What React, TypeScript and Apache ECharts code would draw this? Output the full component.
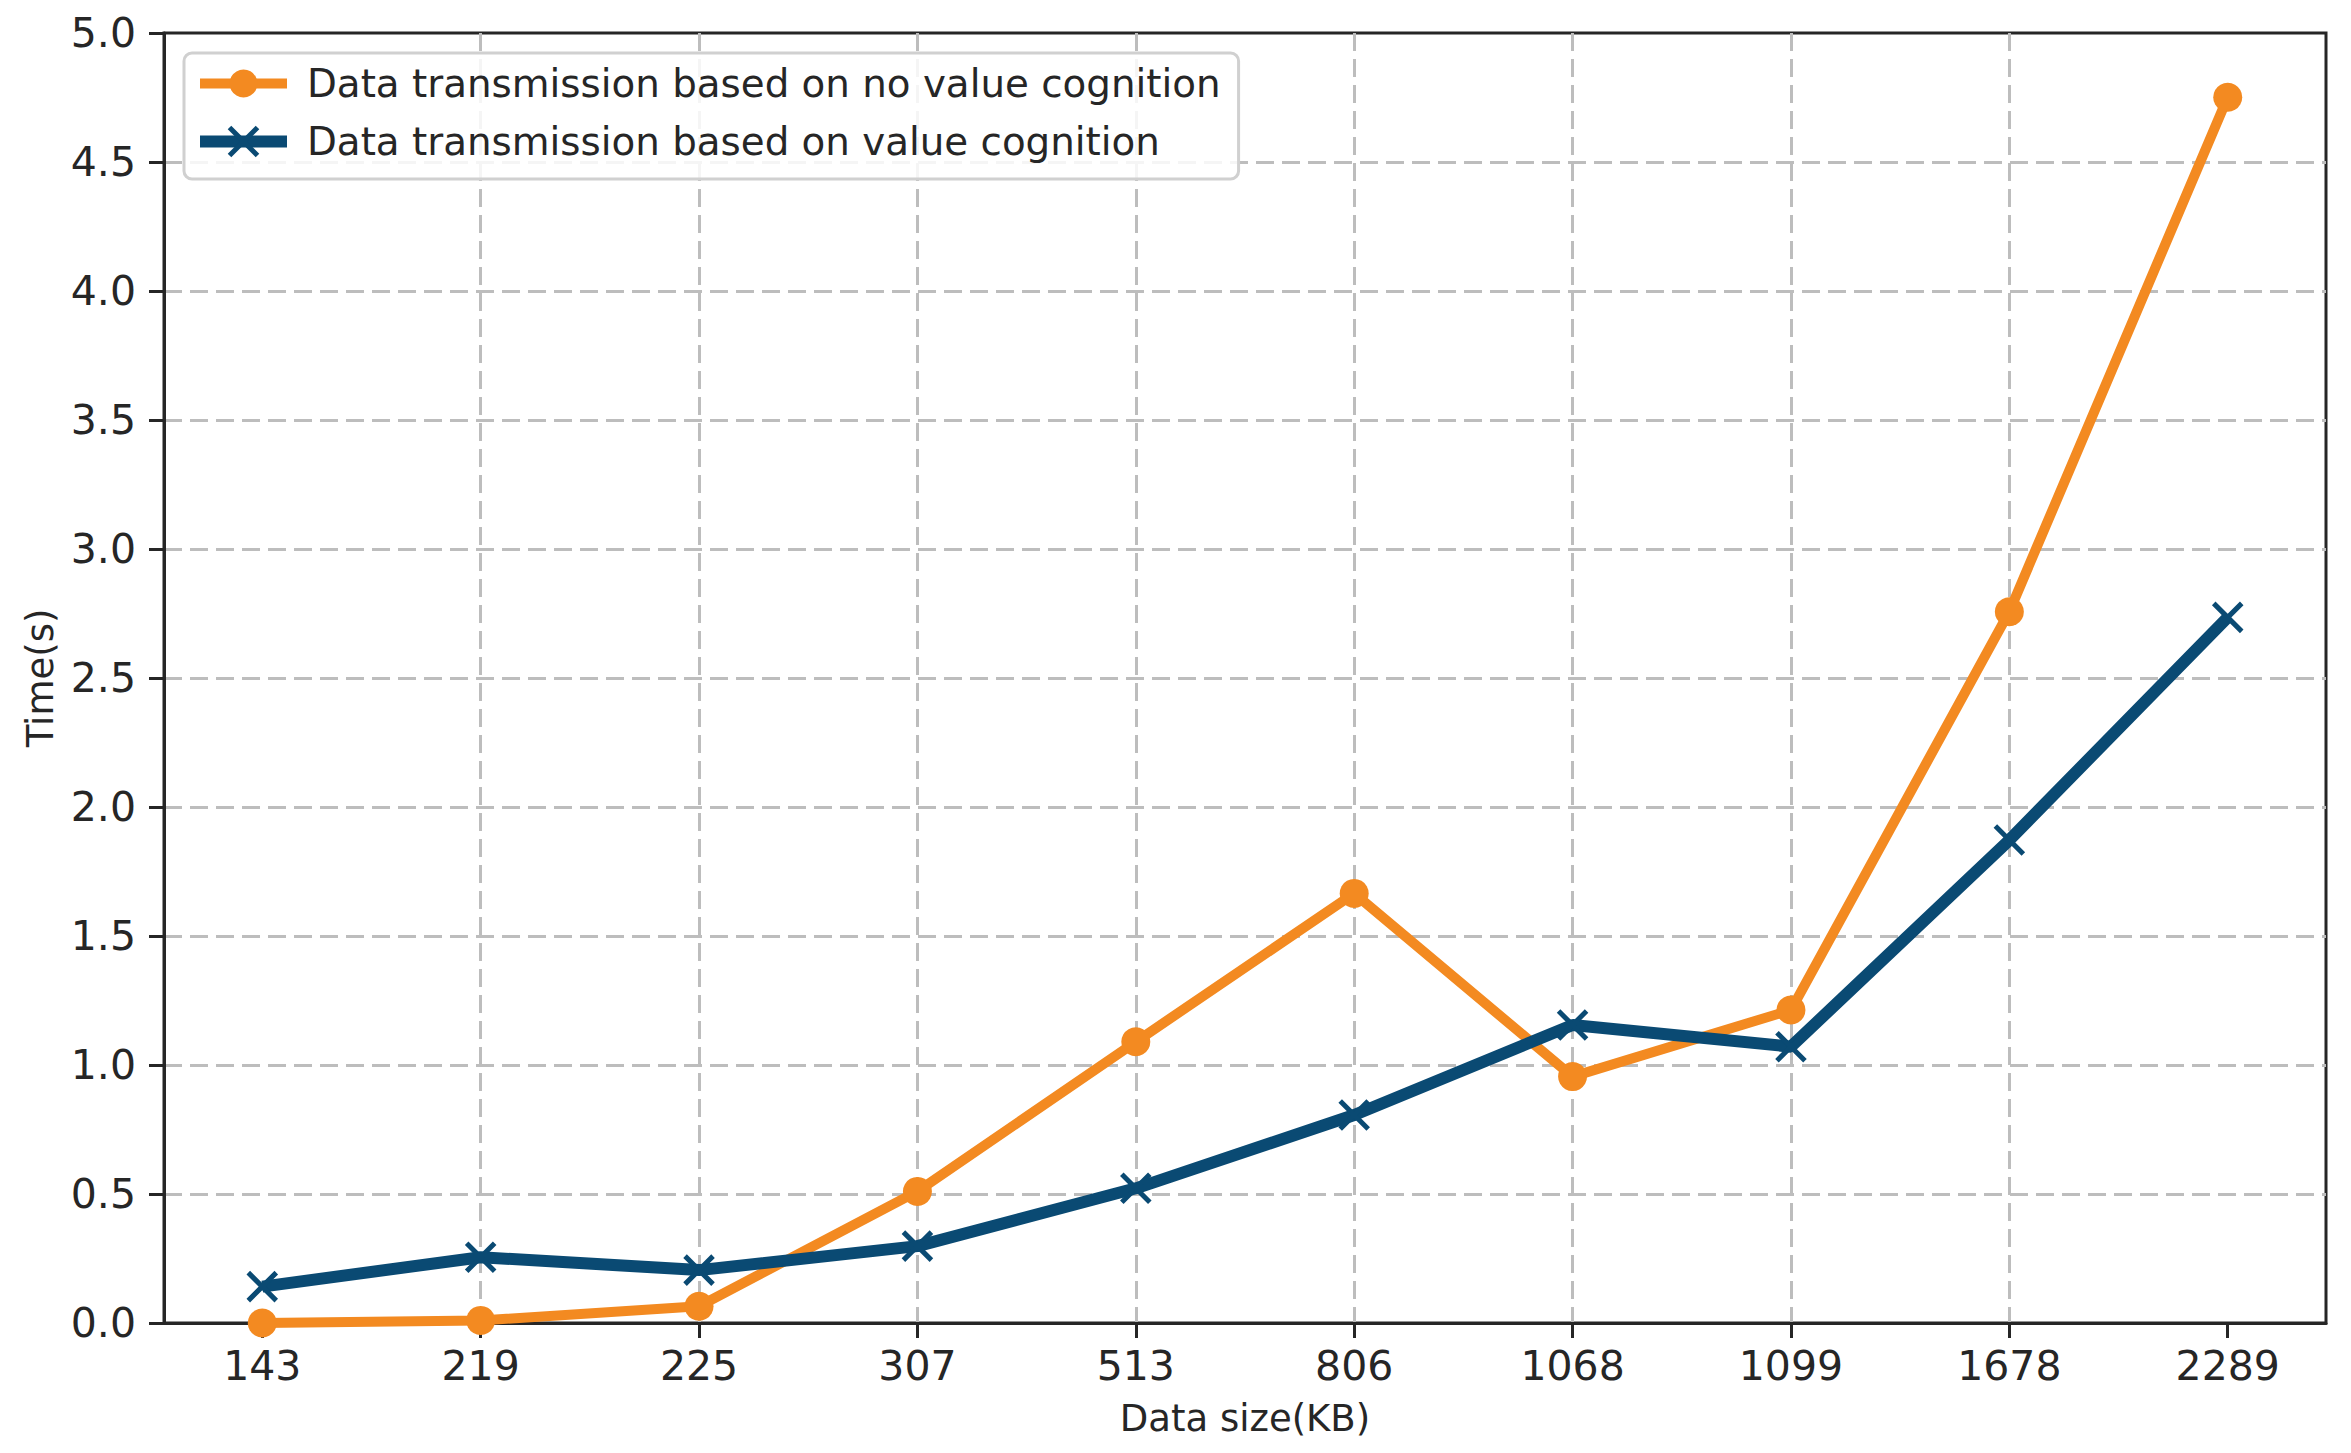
import React, { useEffect, useRef } from "react";
import * as echarts from "echarts";

const categories = ["143", "219", "225", "307", "513", "806", "1068", "1099", "1678", "2289"];
const noValueCognition = [0.0, 0.01, 0.065, 0.51, 1.09, 1.665, 0.955, 1.213, 2.757, 4.751];
const valueCognition = [0.141, 0.255, 0.205, 0.298, 0.522, 0.806, 1.155, 1.071, 1.872, 2.735];
const seriesNames = [
  "Data transmission based on no value cognition",
  "Data transmission based on value cognition",
];
const xTickValues = [0, 1, 2, 3, 4, 5, 6, 7, 8, 9];

const ORANGE = "#f38a21";
const BLUE = "#0a4a73";
const TEXT = "#262626";
const FONT = "DejaVu Sans";
const XMARK = "path://M0,0 L10,10 M10,0 L0,10";

export default function App() {
  const ref = useRef<HTMLDivElement>(null);
  useEffect(() => {
    if (!ref.current) return;
    const chart = echarts.init(ref.current, null, { renderer: "svg" });
    const toPairs = (arr: number[]) => arr.map((v, i) => [i, v]);
    const gridLine = {
      show: true,
      showMinLine: false,
      showMaxLine: false,
      lineStyle: { color: "#bdbdbd", width: 3, type: [18, 8] },
    };
    chart.setOption({
      animation: false,
      backgroundColor: "#ffffff",
      textStyle: { fontFamily: FONT, color: TEXT },
      grid: {
        left: 164,
        right: 25,
        top: 33,
        bottom: 130,
        show: true,
        borderColor: TEXT,
        borderWidth: 3,
        backgroundColor: "transparent",
      },
      legend: {
        orient: "vertical",
        left: 184,
        top: 53,
        itemWidth: 87,
        itemHeight: 35,
        itemGap: 19,
        padding: [11, 18, 18, 10],
        backgroundColor: "rgba(255,255,255,0.85)",
        borderColor: "#d0d0d0",
        borderWidth: 3,
        borderRadius: 8,
        lineStyle: { width: 10 },
        textStyle: { fontFamily: FONT, fontSize: 38.8, color: TEXT, padding: [0, 0, 0, 15] },
        data: [
          { name: seriesNames[0], lineStyle: { width: 10 } },
          { name: seriesNames[1], lineStyle: { width: 12 }, itemStyle: { borderWidth: 5, borderColor: BLUE } },
        ],
      },
      xAxis: {
        type: "value",
        min: -0.45,
        max: 9.45,
        name: "Data size(KB)",
        nameLocation: "middle",
        nameGap: 77,
        nameTextStyle: { fontFamily: FONT, fontSize: 37, color: TEXT },
        axisLine: { show: true, onZero: false, lineStyle: { color: TEXT, width: 3 } },
        axisTick: {
          show: true,
          inside: false,
          length: 15,
          lineStyle: { color: TEXT, width: 3 },
          customValues: xTickValues,
        },
        axisLabel: {
          show: true,
          margin: 22,
          fontFamily: FONT,
          fontSize: 41,
          color: TEXT,
          customValues: xTickValues,
          formatter: (v: number) => categories[Math.round(v)] ?? "",
        },
        splitLine: gridLine,
      },
      yAxis: {
        type: "value",
        min: 0,
        max: 5,
        interval: 0.5,
        name: "Time(s)",
        nameLocation: "middle",
        nameGap: 105,
        nameTextStyle: { fontFamily: FONT, fontSize: 37, color: TEXT },
        axisLine: { show: true, onZero: false, lineStyle: { color: TEXT, width: 3 } },
        axisTick: { show: true, inside: false, length: 15, lineStyle: { color: TEXT, width: 3 } },
        axisLabel: {
          margin: 28,
          fontFamily: FONT,
          fontSize: 41,
          color: TEXT,
          formatter: (v: number) => v.toFixed(1),
        },
        splitLine: gridLine,
      },
      series: [
        {
          name: seriesNames[0],
          type: "line",
          data: toPairs(noValueCognition),
          symbol: "circle",
          symbolSize: 29,
          lineStyle: { color: ORANGE, width: 10 },
          itemStyle: { color: ORANGE },
          z: 3,
        },
        {
          name: seriesNames[1],
          type: "line",
          data: toPairs(valueCognition),
          symbol: XMARK,
          symbolSize: 28,
          lineStyle: { color: BLUE, width: 12 },
          itemStyle: { color: BLUE, borderColor: BLUE, borderWidth: 5 },
          z: 4,
        },
      ],
    });
    return () => chart.dispose();
  }, []);
  return (
    <div
      ref={ref}
      style={{ position: "fixed", left: 0, top: 0, width: 2351, height: 1453, background: "#fff" }}
    />
  );
}
